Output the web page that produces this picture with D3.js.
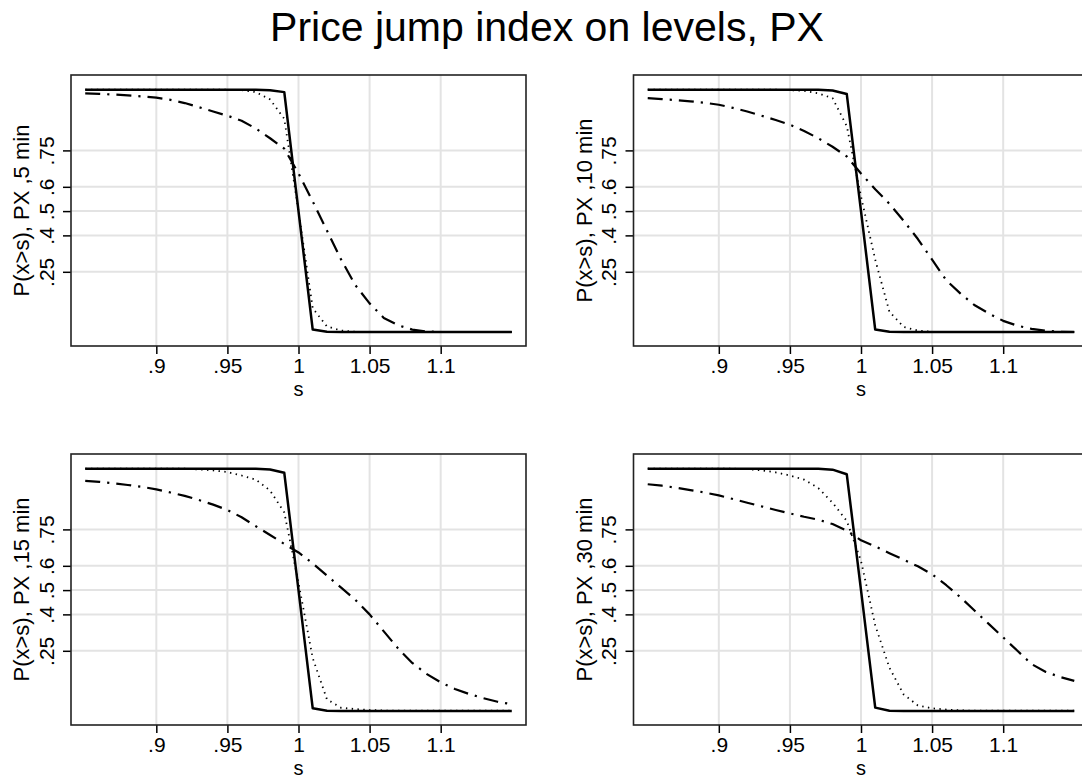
<!DOCTYPE html>
<html>
<head>
<meta charset="utf-8">
<script src="https://cdn.jsdelivr.net/npm/d3@7"></script>
<style>
  body { margin: 0; background: #fff; }
  svg { display: block; font-family: "Liberation Sans", Arial, sans-serif; }
</style>
</head>
<body>
<div id="chart"></div>
<script>
// s grid shared by every series
var sValues = [0.85, 0.86, 0.87, 0.88, 0.89, 0.90, 0.91, 0.92, 0.93, 0.94, 0.95,
  0.96, 0.97, 0.98, 0.99, 1.00, 1.01, 1.02, 1.03, 1.04, 1.05,
  1.06, 1.07, 1.08, 1.09, 1.10, 1.11, 1.12, 1.13, 1.14, 1.15]

var xTicks = [0.9, 0.95, 1, 1.05, 1.1]
var xTickLabels = ['.9', '.95', '1', '1.05', '1.1']
var yTicks = [0.25, 0.4, 0.5, 0.6, 0.75]
var yTickLabels = ['.25', '.4', '.5', '.6', '.75']

var chartTitle = 'Price jump index on levels, PX'
var xTitle = 's'
var yTitles = ['P(x>s), PX ,5 min', 'P(x>s), PX ,10 min', 'P(x>s), PX ,15 min', 'P(x>s), PX ,30 min']

// 5 min
var solid5 = [1, 1, 1, 1, 1, 1, 1, 1, 1, 1, 1, 1, 1, 0.998, 0.99, 0.5, 0.012, 0.003,
  0.002, 0.002, 0.002, 0.002, 0.002, 0.002, 0.002, 0.002, 0.002, 0.002, 0.002, 0.002, 0.002]
var dot5 = [1, 1, 1, 1, 1, 1, 1, 1, 1, 1, 1, 0.998, 0.99, 0.96, 0.88, 0.5, 0.1, 0.025, 0.008, 0.003,
  0.002, 0.002, 0.002, 0.002, 0.002, 0.002, 0.002, 0.002, 0.002, 0.002, 0.002]
var dash5 = [0.985, 0.983, 0.98, 0.977, 0.972, 0.967, 0.958, 0.945, 0.928, 0.91, 0.893, 0.872, 0.84,
  0.80, 0.757, 0.655, 0.54, 0.42, 0.30, 0.195, 0.12, 0.06, 0.03, 0.012, 0.004,
  0.002, 0.002, 0.002, 0.002, 0.002, 0.002]

// 10 min
var solid10 = [1, 1, 1, 1, 1, 1, 1, 1, 1, 1, 1, 1, 1, 0.997, 0.982, 0.5, 0.012, 0.003,
  0.002, 0.002, 0.002, 0.002, 0.002, 0.002, 0.002, 0.002, 0.002, 0.002, 0.002, 0.002, 0.002]
var dot10 = [1, 1, 1, 1, 1, 1, 1, 1, 1, 1, 0.998, 0.995, 0.985, 0.965, 0.85, 0.56, 0.30, 0.085, 0.023,
  0.008, 0.003, 0.002, 0.002, 0.002, 0.002, 0.002, 0.002, 0.002, 0.002, 0.002, 0.002]
var dash10 = [0.965, 0.961, 0.957, 0.952, 0.946, 0.938, 0.925, 0.91, 0.893, 0.875, 0.856, 0.83, 0.80,
  0.765, 0.725, 0.655, 0.59, 0.53, 0.46, 0.385, 0.30, 0.215, 0.16, 0.112, 0.078,
  0.048, 0.028, 0.015, 0.007, 0.003, 0.002]

// 15 min
var solid15 = [1, 1, 1, 1, 1, 1, 1, 1, 1, 1, 1, 1, 1, 0.997, 0.983, 0.5, 0.013, 0.003,
  0.002, 0.002, 0.002, 0.002, 0.002, 0.002, 0.002, 0.002, 0.002, 0.002, 0.002, 0.002, 0.002]
var dot15 = [1, 1, 1, 1, 1, 1, 1, 1, 0.997, 0.993, 0.986, 0.972, 0.955, 0.91, 0.82, 0.53, 0.22, 0.05,
  0.015, 0.01, 0.006, 0.004, 0.003, 0.003, 0.003, 0.003, 0.003, 0.003, 0.003, 0.003, 0.003]
var dash15 = [0.95, 0.946, 0.94, 0.933, 0.925, 0.915, 0.902, 0.888, 0.871, 0.852, 0.83, 0.80, 0.763,
  0.727, 0.69, 0.655, 0.61, 0.56, 0.51, 0.46, 0.40, 0.33, 0.26, 0.20, 0.155,
  0.12, 0.093, 0.072, 0.055, 0.04, 0.03]

// 30 min
var solid30 = [1, 1, 1, 1, 1, 1, 1, 1, 1, 1, 1, 1, 1, 0.996, 0.977, 0.5, 0.016, 0.003,
  0.002, 0.002, 0.002, 0.002, 0.002, 0.002, 0.002, 0.002, 0.002, 0.002, 0.002, 0.002, 0.002]
var dot30 = [1, 1, 1, 1, 1, 1, 1, 0.998, 0.993, 0.985, 0.972, 0.955, 0.92, 0.86, 0.785, 0.62, 0.355,
  0.18, 0.07, 0.025, 0.013, 0.008, 0.005, 0.003, 0.003, 0.003, 0.003, 0.003, 0.003, 0.003, 0.003]
var dash30 = [0.936, 0.93, 0.922, 0.912, 0.902, 0.89, 0.875, 0.86, 0.845, 0.83, 0.816, 0.802, 0.79,
  0.772, 0.745, 0.705, 0.68, 0.652, 0.625, 0.598, 0.565, 0.52, 0.47, 0.415, 0.36,
  0.305, 0.25, 0.195, 0.163, 0.142, 0.126]

var width = 1082
var height = 780

// frame of each plot region
var frameW = 455
var frameH = 271
var colX = [71, 633.5]
var rowY = [75, 454]

var panels = [
  { col: 0, row: 0, ytitle: yTitles[0], solid: solid5, dot: dot5, dash: dash5 },
  { col: 1, row: 0, ytitle: yTitles[1], solid: solid10, dot: dot10, dash: dash10 },
  { col: 0, row: 1, ytitle: yTitles[2], solid: solid15, dot: dot15, dash: dash15 },
  { col: 1, row: 1, ytitle: yTitles[3], solid: solid30, dot: dot30, dash: dash30 }
]

var styles = {
  solid: { width: 2.5, dash: null },
  dot: { width: 1.8, dash: '1.4,4.4' },
  dash: { width: 2.2, dash: '15,7,2.2,7' }
}

var svg = d3.select('#chart')
  .append('svg')
  .attr('width', width)
  .attr('height', height)

svg.append('rect')
  .attr('width', width)
  .attr('height', height)
  .attr('fill', '#fff')

svg.append('text')
  .attr('x', 547)
  .attr('y', 41)
  .attr('text-anchor', 'middle')
  .style('font-size', '41px')
  .text(chartTitle)

panels.forEach(function(p) {
  var x0 = colX[p.col]
  var y0 = rowY[p.row]

  var xScale = d3.scaleLinear()
    .domain([0.84, 1.16])
    .range([x0, x0 + frameW])

  var yScale = d3.scaleLinear()
    .domain([0, 1])
    .range([y0 + 257.5, y0 + 14.7])

  var g = svg.append('g').attr('class', 'panel')

  // grid
  g.selectAll('.vgrid')
    .data(xTicks)
    .enter()
    .append('line')
    .attr('x1', d => xScale(d))
    .attr('x2', d => xScale(d))
    .attr('y1', y0)
    .attr('y2', y0 + frameH)
    .style('stroke', '#e3e3e3')
    .style('stroke-width', 2)

  g.selectAll('.hgrid')
    .data(yTicks)
    .enter()
    .append('line')
    .attr('x1', x0)
    .attr('x2', x0 + frameW)
    .attr('y1', d => yScale(d))
    .attr('y2', d => yScale(d))
    .style('stroke', '#e3e3e3')
    .style('stroke-width', 2)

  // x axis
  var xAxis = d3.axisBottom(xScale)
    .tickValues(xTicks)
    .tickSize(8)
    .tickFormat((d, i) => xTickLabels[i])

  var xg = g.append('g')
    .attr('transform', `translate(0,${y0 + frameH})`)
    .call(xAxis)
  xg.select('.domain').remove()
  xg.selectAll('line').style('stroke', '#000').style('stroke-width', 1.5)
  xg.selectAll('text')
    .attr('y', 27)
    .attr('dy', 0)
    .style('font-size', '21px')
    .style('font-family', '"Liberation Sans", Arial, sans-serif')
    .style('fill', '#000')

  // y axis with rotated labels
  var yAxis = d3.axisLeft(yScale)
    .tickValues(yTicks)
    .tickSize(8)
    .tickFormat((d, i) => yTickLabels[i])

  var yg = g.append('g')
    .attr('transform', `translate(${x0},0)`)
    .call(yAxis)
  yg.select('.domain').remove()
  yg.selectAll('line').style('stroke', '#000').style('stroke-width', 1.5)
  yg.selectAll('text')
    .attr('transform', 'rotate(-90)')
    .attr('x', 0)
    .attr('y', -17.5)
    .attr('dy', 0)
    .style('text-anchor', 'middle')
    .style('font-size', '21px')
    .style('font-family', '"Liberation Sans", Arial, sans-serif')
    .style('fill', '#000')

  // axis titles
  g.append('text')
    .attr('x', x0 + frameW / 2)
    .attr('y', y0 + frameH + 50)
    .attr('text-anchor', 'middle')
    .style('font-size', '20px')
    .text(xTitle)

  g.append('text')
    .attr('transform', `translate(${x0 - 42},${y0 + frameH / 2}) rotate(-90)`)
    .attr('text-anchor', 'middle')
    .style('font-size', '22px')
    .text(p.ytitle)

  // lines
  ;['dot', 'dash', 'solid'].forEach(function(key) {
    var line = d3.line()
      .x((d, i) => xScale(sValues[i]))
      .y(d => yScale(d))

    g.append('path')
      .datum(p[key])
      .attr('class', 'line ' + key)
      .attr('d', line)
      .style('fill', 'none')
      .style('stroke', '#000')
      .style('stroke-width', styles[key].width)
      .style('stroke-dasharray', styles[key].dash)
      .style('stroke-linejoin', 'round')
  })

  // plot region frame
  g.append('rect')
    .attr('x', x0)
    .attr('y', y0)
    .attr('width', frameW)
    .attr('height', frameH)
    .style('fill', 'none')
    .style('stroke', '#222')
    .style('stroke-width', 1.6)
})
</script>
</body>
</html>
